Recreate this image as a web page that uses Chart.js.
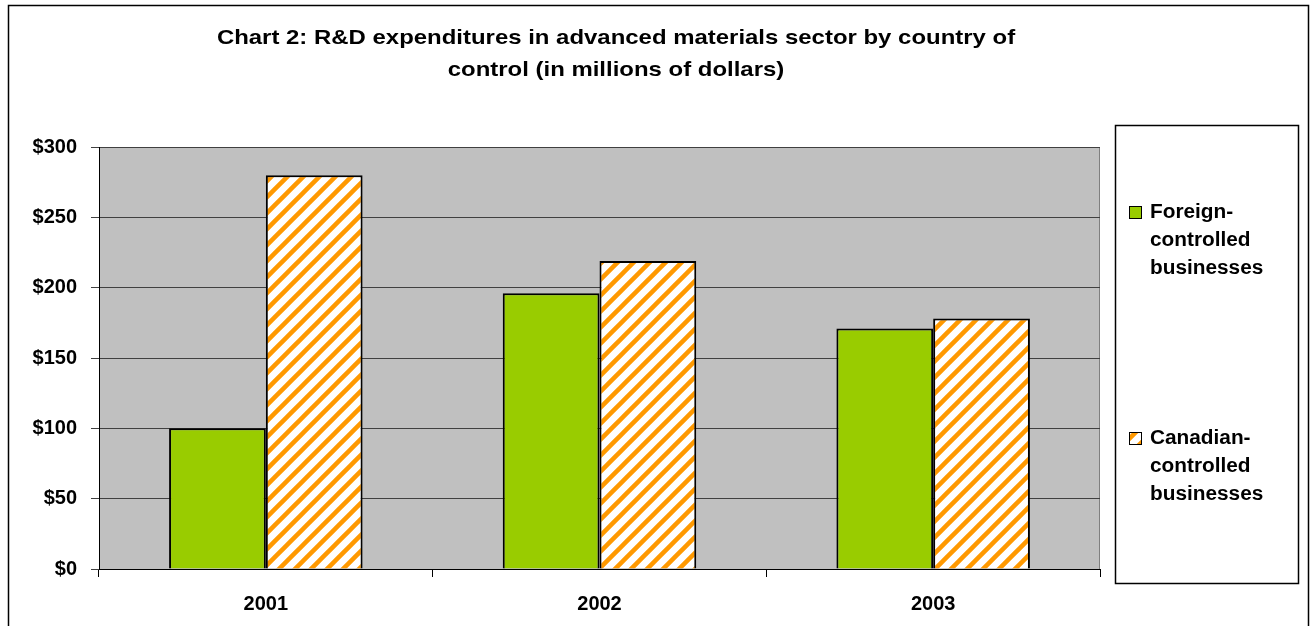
<!DOCTYPE html>
<html>
<head>
<meta charset="utf-8">
<script src="https://cdn.jsdelivr.net/npm/chart.js@4.4.0/dist/chart.umd.min.js"></script>
<style>
  html, body { margin: 0; padding: 0; background: #fff; }
  #wrap { width: 1311px; height: 626px; position: relative; }
</style>
</head>
<body>
<div id="wrap"><canvas id="rdChart" width="1311" height="626"></canvas></div>
<script>
// data
const years = ['2001', '2002', '2003'];
const foreignValues = [100, 196, 171];
const canadianValues = [280, 219, 178];
const seriesNames = [['Foreign-', 'controlled', 'businesses'], ['Canadian-', 'controlled', 'businesses']];
const titleLines = ['Chart 2: R&D expenditures in advanced materials sector by country of', 'control (in millions of dollars)'];

const FONT = '"Liberation Sans", Arial, sans-serif';

// orange diagonal hatch on white
function makeHatch() {
    const c = document.createElement('canvas');
    c.width = 16;
    c.height = 16;
    const g = c.getContext('2d');
    g.fillStyle = '#ffffff';
    g.fillRect(0, 0, 16, 16);
    g.strokeStyle = '#ff9900';
    g.lineWidth = 4.5;
    g.beginPath();
    g.moveTo(-4, 20); g.lineTo(20, -4);
    g.moveTo(-4, 4); g.lineTo(4, -4);
    g.moveTo(12, 20); g.lineTo(20, 12);
    g.stroke();
    return g.createPattern(c, 'repeat');
}

// text stretched sideways a bit, like the original rendering
function wideText(ctx, text, x, y, sx) {
    ctx.save();
    ctx.translate(x, y);
    ctx.scale(sx, 1);
    ctx.fillText(text, 0, 0);
    ctx.restore();
}

// plot background, frame, title, legend
const decor = {
    id: 'decor',
    beforeDraw(chart) {
        const { ctx, chartArea: a } = chart;
        ctx.save();
        ctx.fillStyle = '#c0c0c0';
        ctx.fillRect(a.left, a.top, a.right - a.left, a.bottom - a.top);
        ctx.strokeStyle = '#808080';
        ctx.lineWidth = 1;
        ctx.beginPath();
        ctx.moveTo(a.left, a.top + 0.5);
        ctx.lineTo(a.right - 0.5, a.top + 0.5);
        ctx.lineTo(a.right - 0.5, a.bottom);
        ctx.stroke();
        ctx.restore();
    },
    afterDraw(chart) {
        const ctx = chart.ctx;
        ctx.save();
        // outer frame
        ctx.strokeStyle = '#000';
        ctx.lineWidth = 1.5;
        ctx.beginPath();
        ctx.moveTo(8.5, 640);
        ctx.lineTo(8.5, 5.5);
        ctx.lineTo(1308.5, 5.5);
        ctx.lineTo(1308.5, 640);
        ctx.stroke();

        // title
        ctx.fillStyle = '#000';
        ctx.font = 'bold 21px ' + FONT;
        ctx.textAlign = 'center';
        ctx.textBaseline = 'middle';
        wideText(ctx, titleLines[0], 616, 38, 1.14);
        wideText(ctx, titleLines[1], 616, 70, 1.14);

        // legend box
        ctx.lineWidth = 1.5;
        ctx.strokeStyle = '#000';
        ctx.fillStyle = '#fff';
        ctx.fillRect(1115, 125, 183, 458);
        ctx.strokeRect(1115.5, 125.5, 183, 458);

        const tops = [212, 438];
        chart.data.datasets.forEach((ds, i) => {
            const y = tops[i];
            ctx.fillStyle = ds.backgroundColor;
            ctx.fillRect(1129, y - 6, 13, 13);
            ctx.strokeStyle = '#000';
            ctx.lineWidth = 1;
            ctx.strokeRect(1129.5, y - 5.5, 12, 12);
            ctx.fillStyle = '#000';
            ctx.font = 'bold 20px ' + FONT;
            ctx.textAlign = 'left';
            ctx.textBaseline = 'middle';
            seriesNames[i].forEach((t, k) => wideText(ctx, t, 1150, y + k * 28, 1.04));
        });
        ctx.restore();
    }
};

const hatch = makeHatch();
const ctx = document.getElementById('rdChart').getContext('2d');
new Chart(ctx, {
    type: 'bar',
    data: {
        labels: years,
        datasets: [
            {
                label: 'Foreign-controlled businesses',
                data: foreignValues,
                backgroundColor: '#99cc00',
                borderColor: '#000',
                borderWidth: 2,
                categoryPercentage: 0.58,
                barPercentage: 1
            },
            {
                label: 'Canadian-controlled businesses',
                data: canadianValues,
                backgroundColor: hatch,
                borderColor: '#000',
                borderWidth: 2,
                categoryPercentage: 0.58,
                barPercentage: 1
            }
        ]
    },
    options: {
        responsive: false,
        animation: false,
        layout: { padding: { top: 147, right: 211, bottom: 0, left: 0 } },
        plugins: {
            legend: { display: false },
            title: { display: false },
            tooltip: { enabled: false }
        },
        scales: {
            x: {
                afterFit(scale) { scale.height = 57; },
                grid: { drawOnChartArea: false, drawTicks: true, tickLength: 8, color: '#000', offset: true },
                border: { color: '#000', width: 1 },
                ticks: { color: '#000', font: { family: FONT, size: 20, weight: 'bold' }, padding: 15 }
            },
            y: {
                min: 0,
                max: 300,
                afterFit(scale) { scale.width = 99; },
                grid: { color: '#404040', tickLength: 8, drawTicks: true },
                border: { color: '#000', width: 1 },
                ticks: {
                    stepSize: 50,
                    color: '#000',
                    padding: 14,
                    font: { family: FONT, size: 20, weight: 'bold' },
                    callback: (v) => '$' + v
                }
            }
        }
    },
    plugins: [decor]
});
</script>
</body>
</html>
